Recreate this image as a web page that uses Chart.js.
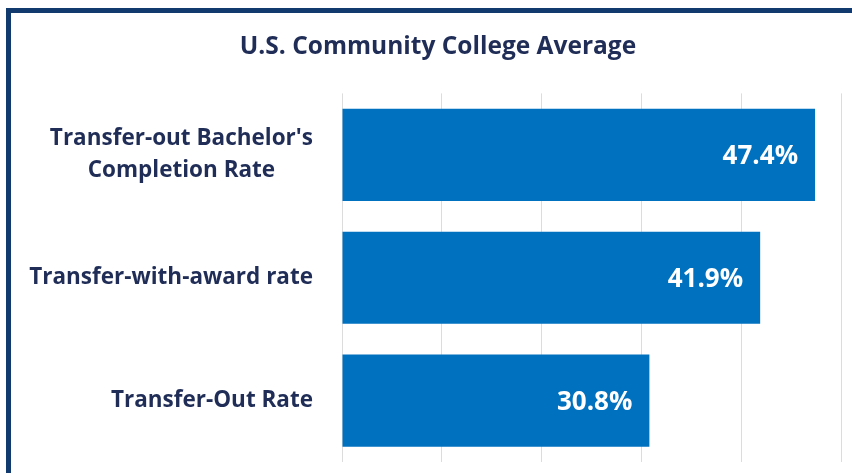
<!DOCTYPE html>
<html>
<head>
<meta charset="utf-8">
<script src="https://cdn.jsdelivr.net/npm/chart.js@4.4.1/dist/chart.umd.min.js"></script>
<style>
  html, body { margin: 0; padding: 0; background: #fff; overflow: hidden; }
  #wrap { position: relative; width: 852px; height: 473px; }
  #frame { position: absolute; left: 6px; top: 8px; width: 1000px; height: 1000px;
           border-top: 5px solid #113a6f; border-left: 5px solid #113a6f; pointer-events: none; }
  canvas { position: absolute; left: 0; top: 0; }
</style>
</head>
<body>
<div id="wrap">
  <canvas id="c" width="852" height="473"></canvas>
  <div id="frame"></div>
</div>
<script>
const titleText = "U.S. Community College Average";
const categories = [["Transfer-out Bachelor's", "Completion Rate"], ["Transfer-with-award rate"], ["Transfer-Out Rate"]];
const values = [47.4, 41.9, 30.8];
const valueLabels = ["47.4%", "41.9%", "30.8%"];

const FONT = "'Open Sans', sans-serif";
const navy = "#1f2d57";

const yLabelPlugin = {
  id: 'yLabels',
  afterDraw(chart) {
    const ctx = chart.ctx;
    const ys = chart.scales.y;
    ctx.save();
    ctx.font = "bold 22.5px " + FONT;
    ctx.fillStyle = navy;
    ctx.textAlign = 'center';
    ctx.textBaseline = 'middle';
    const rightEdge = ys.right - 29;
    const lh = 32;
    categories.forEach((lines, i) => {
      const cy = ys.getPixelForValue(i);
      const maxW = Math.max(...lines.map(l => ctx.measureText(l).width));
      const cx = rightEdge - maxW / 2;
      lines.forEach((l, j) => {
        const y = cy + (j - (lines.length - 1) / 2) * lh;
        ctx.fillText(l, cx, y);
      });
    });
    ctx.restore();
  }
};

const valuePlugin = {
  id: 'values',
  afterDatasetsDraw(chart) {
    const ctx = chart.ctx;
    const meta = chart.getDatasetMeta(0);
    ctx.save();
    ctx.font = "bold 26px " + FONT;
    ctx.fillStyle = "#ffffff";
    ctx.textAlign = 'right';
    ctx.textBaseline = 'middle';
    meta.data.forEach((bar, i) => {
      ctx.fillText(valueLabels[i], bar.x - 17, bar.y + 2);
    });
    ctx.restore();
  }
};

new Chart(document.getElementById('c'), {
  type: 'bar',
  data: {
    labels: categories.map(l => l.join(' ')),
    datasets: [{
      data: values,
      backgroundColor: '#0071bf',
      borderWidth: 0,
      barPercentage: 0.75,
      categoryPercentage: 1.0
    }]
  },
  options: {
    indexAxis: 'y',
    responsive: false,
    animation: false,
    events: [],
    layout: { padding: { left: 24, right: 0, top: 0, bottom: 11 } },
    plugins: {
      legend: { display: false },
      tooltip: { enabled: false },
      title: {
        display: true,
        text: titleText,
        color: navy,
        font: { family: FONT, size: 24.5, weight: 'bold' },
        padding: { top: 32, bottom: 32 }
      }
    },
    scales: {
      x: {
        min: 0, max: 50,
        ticks: { display: false, stepSize: 10 },
        grid: { color: '#dcdcdc', drawTicks: false, lineWidth: 1 },
        border: { display: false },
        afterFit(s) { s.height = 0; }
      },
      y: {
        ticks: { display: false },
        grid: { display: false, drawTicks: false },
        border: { display: false },
        afterFit(s) { s.width = 318; }
      },
      yRight: {
        position: 'right',
        axis: 'y',
        type: 'category',
        ticks: { display: false },
        grid: { display: false, drawTicks: false },
        border: { display: false },
        afterFit(s) { s.width = 11; }
      }
    }
  },
  plugins: [yLabelPlugin, valuePlugin]
});
</script>
</body>
</html>
